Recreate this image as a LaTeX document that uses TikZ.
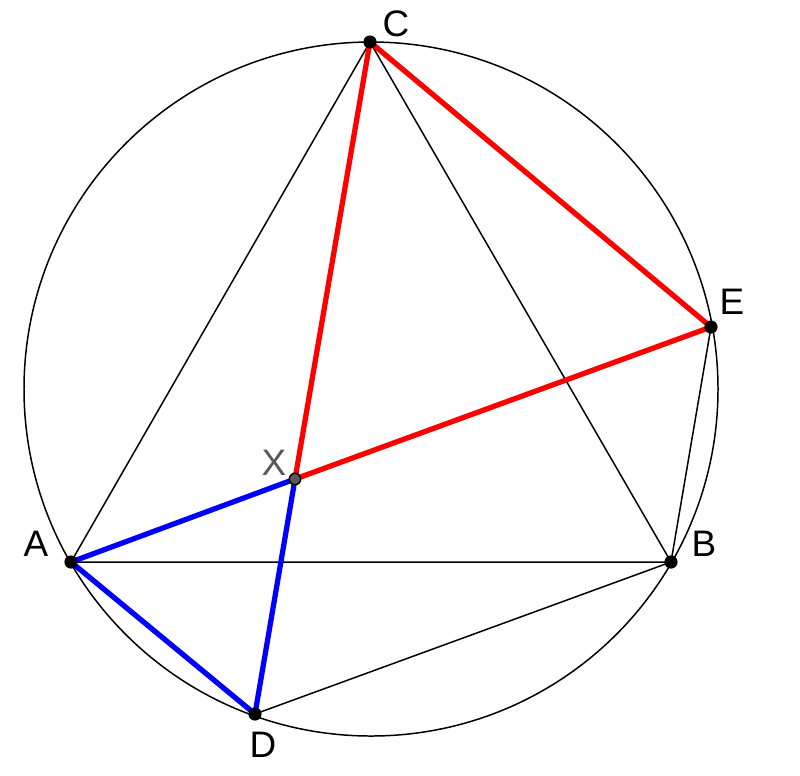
\documentclass[tikz,border=0pt]{standalone}
\usepackage{fontspec}
\setmainfont{Liberation Sans}
\usepackage{tikz}
\usetikzlibrary{arrows.meta}

\begin{document}
\begin{tikzpicture}[x=0.02cm,y=-0.02cm, thin line/.style={line width=0.85pt}, red line/.style={line width=3pt,red}, blue line/.style={line width=3pt,blue}, pt/.style={circle,fill=black,inner sep=0pt,minimum size=7.5pt}, lbl/.style={font=\fontsize{21}{23}\selectfont}]
			\useasboundingbox (0,0) rectangle (800,775);
			\coordinate (A) at (71,562);
			\coordinate (B) at (671,562);
			\coordinate (C) at (370,42);
			\coordinate (D) at (255,714);
			\coordinate (E) at (711,327);
			\coordinate (X) at (295,479);
			
			\draw[thin line] (371,389) circle [radius=347];
			\draw[thin line] (A) -- (C) -- (B) -- (A);
			\draw[thin line] (D) -- (B) -- (E);
			\draw[red line] (C) -- (X) -- (E) -- (C);
			\draw[blue line] (X) -- (A) -- (D) -- (X);
			
			\node[pt] (a) at (A) {};
			\node[pt] (b) at (B) {};
			\node[pt] (c) at (C) {};
			\node[pt] (d) at (D) {};
			\node[pt] (e) at (E) {};
			\node[pt,fill=black!65,draw=black,line width=0.8pt,minimum size=6.5pt] (x) at (X) {};
			
			\node[lbl] at (36,544) {A};
			\node[lbl] at (704,544) {B};
			\node[lbl] at (396,24) {C};
			\node[lbl] at (263,745) {D};
			\node[lbl] at (732,302) {E};
			\node[lbl,black!65] at (274,463) {X};
		\end{tikzpicture}
\end{document}
